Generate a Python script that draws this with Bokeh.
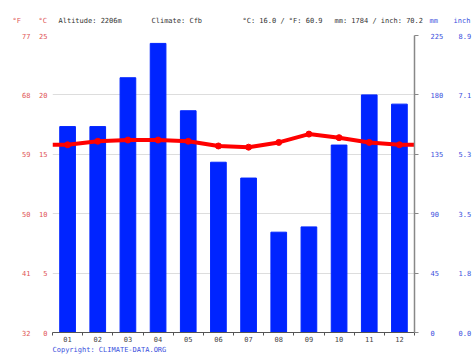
from bokeh.plotting import figure
from bokeh.layouts import column
from bokeh.models import Range1d, LinearAxis, FixedTicker, ColumnDataSource
from bokeh.core.properties import value
from bokeh.embed import file_html
from bokeh.resources import INLINE

# ---- data ----
months = ["01", "02", "03", "04", "05", "06", "07", "08", "09", "10", "11", "12"]
precip_mm = [156, 156, 193, 219, 168, 129, 117, 76, 80, 142, 180, 173]
temp_c = [15.8, 16.1, 16.2, 16.2, 16.1, 15.7, 15.6, 16.0, 16.7, 16.4, 16.0, 15.8]
c_ticks = [0, 5, 10, 15, 20, 25]
mm_ticks = [0, 45, 90, 135, 180, 225]
header_texts = ["°F", "°C", "Altitude: 2206m", "Climate: Cfb",
                "°C: 16.0 / °F: 60.9", "mm: 1784 / inch: 70.2", "mm", "inch"]
copyright_text = "Copyright: CLIMATE-DATA.ORG"

# ---- styles / layout ----
FONT = "DejaVu Sans Mono"
FS = "7px"
RED_T = "#e05555"
BLUE_T = "#3a4fdd"
DARK_T = "#333333"
W = 474
HEAD_H, MAIN_H, FOOT_H = 26, 318, 11
header_x = [12, 38, 58, 151, 242, 334, 429, 453]
header_colors = [RED_T, RED_T, DARK_T, DARK_T, DARK_T, DARK_T, BLUE_T, BLUE_T]

x = list(range(1, 13))

# ---- header ----
h = figure(width=W, height=HEAD_H, output_backend="svg", toolbar_location=None,
           x_range=Range1d(0, W), y_range=Range1d(0, HEAD_H),
           x_axis_type=None, y_axis_type=None, min_border=0, frame_align=False)
h.outline_line_color = None
h.grid.visible = False
hs = ColumnDataSource(dict(x=header_x, y=[HEAD_H - 20] * len(header_x),
                           t=header_texts, c=header_colors))
h.text(x="x", y="y", text="t", text_color="c", source=hs,
       text_font=value(FONT), text_font_size=value(FS), text_baseline="middle",
       text_align="left")

# ---- main ----
p = figure(width=W, height=MAIN_H, output_backend="svg", toolbar_location=None,
           x_range=Range1d(0.5, 12.5), y_range=Range1d(0, 25),
           min_border_left=52, min_border_right=53, min_border_top=9,
           min_border_bottom=12, frame_align=False)
p.outline_line_color = None
p.extra_y_ranges = {"mm": Range1d(0, 225)}

p.vbar(x=x, top=precip_mm, width=0.52, bottom=0, color="#0024ff",
       y_range_name="mm")

edge = (temp_c[0] + temp_c[-1]) / 2
lx = [0.5] + x + [12.5]
ly = [edge] + temp_c + [edge]
p.line(lx, ly, line_color="#ff0000", line_width=4)
p.scatter(x, temp_c, size=6, color="#ff0000")

p.xgrid.visible = False
p.ygrid.ticker = FixedTicker(ticks=c_ticks)
p.ygrid.grid_line_color = "#dddddd"
p.ygrid.grid_line_width = 1

def style(ax, color):
    ax.major_label_text_font = FONT
    ax.major_label_text_font_size = FS
    ax.major_label_text_color = color

yl = p.yaxis[0]
yl.ticker = FixedTicker(ticks=c_ticks)
yl.axis_line_color = None
yl.major_tick_line_color = None
yl.major_tick_out = 0
yl.minor_tick_line_color = None
yl.major_label_standoff = 5
style(yl, RED_T)

fa = LinearAxis(ticker=FixedTicker(ticks=c_ticks),
                major_label_overrides={c: str(int(round(c * 9 / 5 + 32))) for c in c_ticks})
fa.axis_line_color = None
fa.major_tick_line_color = None
fa.major_tick_out = 0
fa.minor_tick_line_color = None
fa.major_label_standoff = 6
style(fa, RED_T)
p.add_layout(fa, "left")

ma = LinearAxis(y_range_name="mm", ticker=FixedTicker(ticks=mm_ticks))
ma.axis_line_color = "#888888"
ma.axis_line_width = 1.5
ma.major_tick_line_color = "#888888"
ma.major_tick_out = 4
ma.major_tick_in = 0
ma.minor_tick_line_color = None
ma.major_label_standoff = 12
style(ma, BLUE_T)
p.add_layout(ma, "right")

ia = LinearAxis(y_range_name="mm", ticker=FixedTicker(ticks=mm_ticks),
                major_label_overrides={m: "%.1f" % (m / 25.4) for m in mm_ticks})
ia.axis_line_color = None
ia.major_tick_line_color = None
ia.minor_tick_line_color = None
ia.major_label_standoff = 6
style(ia, BLUE_T)
p.add_layout(ia, "right")

xa = p.xaxis[0]
xa.ticker = FixedTicker(ticks=x, minor_ticks=[i + 0.5 for i in range(0, 13)])
xa.major_label_overrides = {i: m for i, m in zip(x, months)}
xa.major_tick_line_color = None
xa.major_tick_out = 0
xa.minor_tick_line_color = "#555555"
xa.minor_tick_out = 3
xa.minor_tick_in = 0
xa.axis_line_color = "#555555"
xa.major_label_standoff = 0
style(xa, "#444444")

# ---- footer ----
f = figure(width=W, height=FOOT_H, output_backend="svg", toolbar_location=None,
           x_range=Range1d(0, W), y_range=Range1d(0, FOOT_H),
           x_axis_type=None, y_axis_type=None, min_border=0, frame_align=False)
f.outline_line_color = None
f.grid.visible = False
f.text(x=[52], y=[FOOT_H - 4], text=[copyright_text], text_color=BLUE_T,
       text_font=value(FONT), text_font_size=value(FS), text_baseline="middle",
       text_align="left")

layout = column(h, p, f, spacing=0)
open("out.html", "w").write(file_html(layout, INLINE))
